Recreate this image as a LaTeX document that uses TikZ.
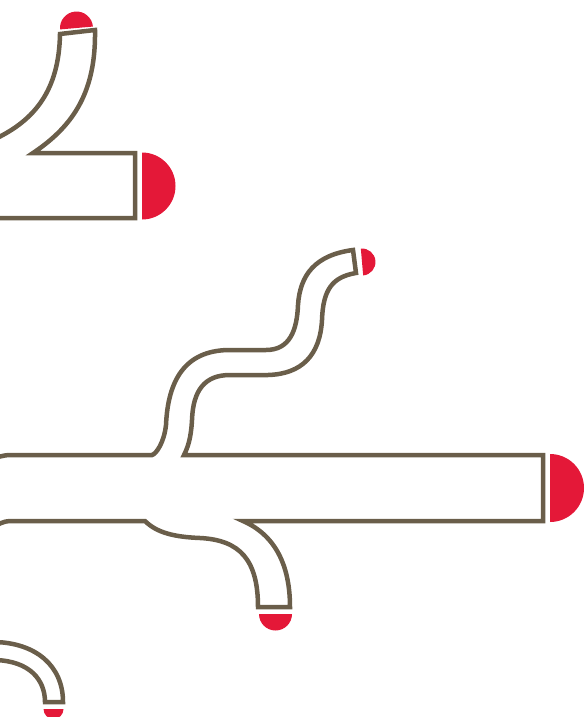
\documentclass[tikz,border=0pt]{standalone}
\definecolor{stemcolor}{RGB}{106,94,74}
\definecolor{budred}{RGB}{228,24,56}
\begin{document}
\begin{tikzpicture}[x=1pt, y=-1pt,
    stem/.style={draw=stemcolor, line width=4.5pt},
    bud/.style={fill=budred}]
    % Frame
    \useasboundingbox (0,0) rectangle (585,717);
    \clip (0,0) rectangle (585,717);

    % Upper left stalk
    \draw[stem] (-5,139) .. controls (35,120) and (59,90) .. (60,34) -- (95,30)
        .. controls (96,90) and (75,125) .. (33,153) -- (135,153) -- (135,218) -- (-5,218);
    \fill[bud] (76.5,28) ++(175:16.5) arc[start angle=175, end angle=355, radius=16.5] -- cycle;
    \fill[bud] (142,186) ++(-90:33.5) arc[start angle=-90, end angle=90, radius=33.5] -- cycle;

    % Main stalk with two shoots
    \draw[stem] (-5,458) .. controls (5,455) .. (18,455) -- (152,455)
        .. controls (156,454) and (164,443) .. (166,425)
        .. controls (168,380) and (185,351) .. (228,350) -- (266,350)
        .. controls (290,350) and (297,330) .. (298,305)
        .. controls (300,275) and (315,255) .. (353,250) -- (356,273)
        .. controls (332,277) and (323,290) .. (322,320)
        .. controls (320,355) and (302,374) .. (268,375) -- (230,375)
        .. controls (205,375) and (193,390) .. (192,420)
        .. controls (191,438) and (188,447) .. (184,455)
        -- (543,455) -- (543,521) -- (243,521)
        .. controls (275,535) and (290,565) .. (290,607) -- (258,607)
        .. controls (258,560) and (240,540) .. (200,538)
        .. controls (175,537) and (157,533) .. (145,521)
        -- (18,521) .. controls (5,521) .. (-5,526);
    \fill[bud] (362,262) ++(-95:13.5) arc[start angle=-95, end angle=85, radius=13.5] -- cycle;
    \fill[bud] (550,488) ++(-90:34) arc[start angle=-90, end angle=90, radius=34] -- cycle;
    \fill[bud] (275.5,614) ++(0:16.5) arc[start angle=0, end angle=180, radius=16.5] -- cycle;

    % Lower left stalk
    \draw[stem] (-5,642) .. controls (35,643) and (63,665) .. (63,702) -- (45,702)
        .. controls (45,680) and (30,661) .. (-5,660);
    \fill[bud] (53.5,709) ++(0:10) arc[start angle=0, end angle=180, radius=10] -- cycle;
\end{tikzpicture}
\end{document}
